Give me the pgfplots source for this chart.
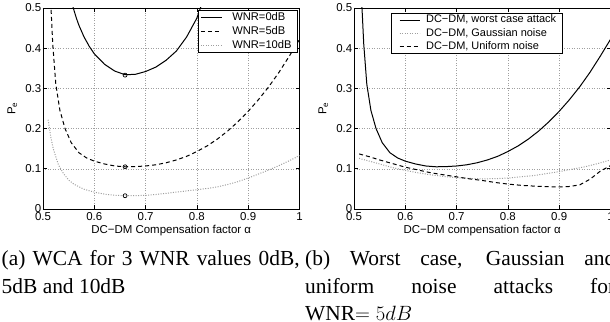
\documentclass[border=0pt]{standalone}
\usepackage{fontspec}
\setmainfont{Liberation Serif}
\setsansfont{Liberation Sans}
\usepackage{pgfplots}
\pgfplotsset{compat=1.18}
\definecolor{dotgray}{gray}{0.62}
\newcommand{\capfont}{\fontsize{21.5}{27}\selectfont}

\pgfplotstableread{
x y
0.5545 0.53
0.559 0.50
0.565 0.475
0.570 0.457
0.580 0.428
0.590 0.405
0.600 0.386
0.620 0.360
0.640 0.343
0.660 0.334
0.680 0.335
0.700 0.342
0.720 0.353
0.740 0.370
0.760 0.393
0.780 0.428
0.800 0.475
0.815 0.53
}\wnrzero

\pgfplotstableread{
x y
0.514 0.53
0.5156 0.50
0.519 0.41
0.525 0.31
0.533 0.245
0.543 0.200
0.555 0.165
0.570 0.140
0.585 0.127
0.600 0.119
0.620 0.112
0.640 0.107
0.660 0.105
0.680 0.1055
0.700 0.107
0.720 0.110
0.740 0.115
0.760 0.122
0.780 0.131
0.800 0.143
0.820 0.157
0.840 0.174
0.860 0.194
0.880 0.217
0.900 0.243
0.920 0.272
0.940 0.304
0.960 0.340
0.980 0.380
1.000 0.422
}\wnrfive

\pgfplotstableread{
x y
0.510 0.222
0.515 0.180
0.520 0.150
0.530 0.110
0.540 0.088
0.550 0.072
0.560 0.062
0.580 0.049
0.600 0.042
0.620 0.037
0.640 0.034
0.660 0.033
0.680 0.0332
0.700 0.034
0.720 0.036
0.740 0.039
0.760 0.042
0.780 0.045
0.800 0.048
0.820 0.051
0.840 0.055
0.860 0.061
0.880 0.068
0.900 0.077
0.920 0.087
0.940 0.097
0.960 0.108
0.980 0.120
1.000 0.133
}\wnrten

\pgfplotstableread{
x y
0.510 0.126
0.530 0.119
0.550 0.112
0.575 0.103
0.600 0.096
0.625 0.090
0.650 0.085
0.675 0.081
0.700 0.078
0.725 0.076
0.750 0.075
0.775 0.0755
0.800 0.077
0.825 0.080
0.850 0.083
0.875 0.088
0.900 0.093
0.925 0.099
0.950 0.105
0.975 0.113
1.000 0.122
}\gauss

\pgfplotstableread{
x y
0.510 0.137
0.530 0.130
0.550 0.122
0.575 0.113
0.600 0.104
0.625 0.097
0.650 0.090
0.675 0.085
0.700 0.080
0.725 0.075
0.750 0.071
0.775 0.066
0.800 0.062
0.825 0.059
0.850 0.057
0.875 0.0555
0.900 0.055
0.920 0.056
0.940 0.060
0.960 0.074
0.980 0.094
1.000 0.108
}\unif

\pgfplotsset{
  matstyle/.style={
    scale only axis, width=256.5bp, height=201bp,
    xmin=0.5, xmax=1, ymin=0, ymax=0.5,
    xtick={0.5,0.6,0.7,0.8,0.9,1},
    xticklabels={0.5,0.6,0.7,0.8,0.9,1},
    ytick={0,0.1,0.2,0.3,0.4,0.5},
    yticklabels={0,0.1,0.2,0.3,0.4,0.5},
    tick align=inside, major tick length=4bp,
    grid=major, major grid style={dash pattern=on 1bp off 1.5bp, gray!75, line width=0.5bp},
    axis line style={line width=0.9bp},
    every tick/.append style={black, line width=0.6bp},
    tick label style={font=\fontsize{11.5}{13}\sffamily},
    yticklabel style={inner xsep=1.5bp},
    /pgf/number format/assume math mode=true,
    label style={font=\fontsize{11.5}{13}\sffamily},
    ylabel={P\textsubscript{e}},
    xlabel style={at={(axis description cs:0.5,-0.121)}, anchor=base},
    ylabel style={at={(axis description cs:-0.108,0.5)}, anchor=base},
    legend cell align=left,
  },
  solidl/.style={black, line width=1bp, solid},
  dashl/.style={black, line width=1bp, dash pattern=on 4bp off 3bp},
  dotl/.style={dotgray, line width=1bp, dash pattern=on 1bp off 1.5bp},
}

\begin{document}
\begin{tikzpicture}
\useasboundingbox (0bp,0bp) rectangle (610bp,322bp);
\begin{scope}
\clip (0bp,0bp) rectangle (610bp,322bp);

\begin{axis}[matstyle, at={(43bp,113bp)}, anchor=south west,
  xlabel={DC−DM Compensation factor α},
  legend style={at={(axis description cs:0.994,0.99)}, anchor=north east,
    draw=black, line width=0.8bp, fill=white, inner xsep=2bp, inner ysep=0bp,
    font=\fontsize{11.2}{13}\sffamily, column sep=6bp, row sep=0bp,
    nodes={inner xsep=4bp, inner ysep=1.5bp, text height=8.5bp, text depth=2.5bp}},
  legend image code/.code={\draw[#1] (0bp,0bp) -- (21bp,0bp);},
]
\addplot[solidl] table[x=x,y=y] {\wnrzero};
\addlegendentry{WNR=0dB}
\addplot[dashl] table[x=x,y=y] {\wnrfive};
\addlegendentry{WNR=5dB}
\addplot[dotl] table[x=x,y=y] {\wnrten};
\addlegendentry{WNR=10dB}
\addplot[only marks, mark=o, mark size=2bp, black, line width=0.7bp, forget plot]
  coordinates {(0.66,0.333) (0.66,0.105) (0.66,0.033)};
\end{axis}

\begin{axis}[matstyle, at={(354bp,113bp)}, anchor=south west,
  xlabel={DC−DM compensation factor α},
  legend style={at={(axis description cs:0.813,0.975)}, anchor=north east,
    draw=black, line width=0.8bp, fill=white, inner xsep=2bp, inner ysep=0bp,
    font=\fontsize{11}{13}\sffamily, column sep=2bp, row sep=0bp,
    nodes={inner xsep=4bp, inner ysep=1.25bp, text height=8.3bp, text depth=2.5bp}},
  legend image code/.code={\path (0bp,0bp); \draw[#1] (5.5bp,0bp) -- (25.5bp,0bp);},
]
\addplot[solidl] table[x=x,y=y] {\wnrfive};
\addlegendentry{DC−DM, worst case attack}
\addplot[dotl] table[x=x,y=y] {\gauss};
\addlegendentry{DC−DM, Gaussian noise}
\addplot[dashl] table[x=x,y=y] {\unif};
\addlegendentry{DC−DM, Uniform noise}
\end{axis}

\node[anchor=base west, inner sep=0pt] at (1.5bp,56bp) {\capfont\makebox[298bp][s]{(a) WCA for 3 WNR values 0dB,}};
\node[anchor=base west, inner sep=0pt] at (1.5bp,29bp) {\capfont 5dB and 10dB};
\node[anchor=base west, inner sep=0pt] at (305bp,56bp) {\capfont\makebox[310bp][s]{(b) Worst case, Gaussian and}};
\node[anchor=base west, inner sep=0pt] at (305bp,29bp) {\capfont\makebox[310bp][s]{uniform noise attacks for}};
\node[anchor=base west, inner sep=0pt] at (305bp,2bp) {\capfont WNR$=5dB$};
\end{scope}
\end{tikzpicture}
\end{document}
